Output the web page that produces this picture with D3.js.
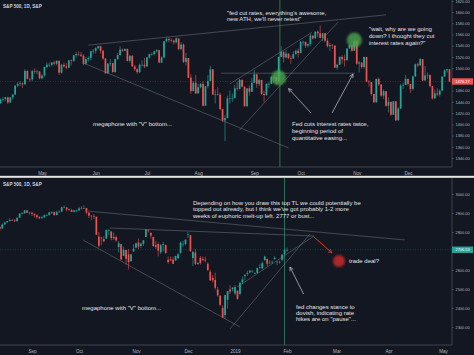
<!DOCTYPE html>
<html><head><meta charset="utf-8">
<script src="https://cdn.jsdelivr.net/npm/d3@7"></script>
<style>html,body{margin:0;padding:0;background:#131722;overflow:hidden}</style>
</head><body><svg id="c" width="474" height="355"></svg>
<script>
// ---------- TOP PANEL DATA: S&P 500 daily, Apr 5 2007 .. Dec 27 2007 (index 0..184) ----------
const topOpen = [
 1438,1444,1445,1448,1439,1448,1453,1469,1472,1473,1471,1495,1481,1480,1495,1494,1494,
 1482,1487,1502,1506,1506,1510,1508,1513,1492,1506,1503,1501,1514,1513,1523,1525,1524,1522,1508,1516,1518,1530,
 1531,1536,1539,1531,1517,1491,1508,1509,1493,1516,1523,1533,1531,1534,1513,1522,1503,1498,1493,1506,1506,
 1503,1519,1525,1525,1530,1532,1510,1519,1548,1552,1550,1549,1546,1553,1534,1542,1511,1518,1483,1459,1474,
 1455,1466,1472,1433,1468,1477,1498,1453,1454,1453,1427,1407,1411,1446,1446,1447,1464,1463,1479,1467,1432,1464,1458,
 1474,1489,1472,1479,1454,1452,1472,1472,1484,1484,1477,1520,1529,1519,1526,1518,1517,1525,1531,
 1527,1547,1547,1540,1543,1558,1553,1565,1562,1554,1562,1549,1539,1541,1540,1501,1506,1520,1516,1514,1535,1541,1531,
 1549,1508,1510,1502,1520,1476,1475,1454,1439,1481,1471,1451,1459,1433,1440,1417,1441,1407,1428,1469,1470,
 1481,1472,1463,1485,1507,1505,1516,1478,1487,1488,1468,1446,1455,1453,1460,1485,1496,1498];
const topHigh = [
 1446,1449,1449,1449,1448,1453,1469,1475,1477,1475,1498,1496,1483,1497,1500,1497,1495,
 1489,1503,1510,1510,1511,1513,1514,1514,1507,1510,1509,1505,1515,1523,1529,1530,1529,1525,1520,1521,1531,1534,
 1537,1540,1540,1532,1518,1509,1516,1510,1517,1527,1539,1535,1536,1535,1523,1523,1506,1500,1508,1514,1518,
 1520,1526,1528,1531,1534,1532,1521,1548,1556,1555,1553,1551,1555,1553,1546,1544,1527,1518,1489,1477,1488,
 1472,1474,1477,1468,1488,1504,1498,1462,1466,1456,1428,1416,1451,1460,1455,1470,1476,1481,1480,1467,1464,1469,1482,
 1497,1489,1481,1479,1460,1473,1476,1486,1486,1485,1521,1539,1530,1532,1526,1523,1530,1533,1535,
 1548,1549,1547,1544,1561,1558,1565,1567,1576,1563,1563,1553,1545,1543,1541,1508,1521,1523,1524,1535,1543,1541,1552,
 1549,1513,1511,1520,1520,1479,1475,1454,1481,1483,1471,1462,1459,1448,1440,1441,1441,1431,1472,1474,1488,
 1481,1472,1487,1508,1510,1518,1516,1504,1492,1488,1468,1462,1464,1462,1485,1498,1499,1498];
const topLow = [
 1436,1440,1441,1436,1438,1444,1453,1466,1468,1465,1471,1480,1476,1477,1490,1489,1480,
 1480,1485,1500,1502,1503,1505,1505,1488,1490,1501,1498,1500,1505,1511,1519,1522,1520,1505,1506,1512,1514,1526,
 1526,1533,1526,1515,1490,1490,1504,1492,1492,1515,1523,1529,1530,1512,1510,1503,1495,1490,1491,1503,1500,
 1503,1517,1522,1523,1528,1509,1509,1517,1546,1546,1546,1542,1544,1532,1532,1509,1505,1482,1454,1460,1454,
 1455,1464,1432,1434,1464,1477,1453,1437,1451,1425,1404,1370,1411,1437,1440,1446,1460,1462,1466,1432,1432,1451,1458,
 1474,1465,1468,1452,1439,1451,1465,1472,1474,1471,1477,1520,1510,1517,1516,1508,1517,1524,1519,
 1526,1540,1536,1537,1540,1551,1553,1555,1553,1548,1546,1537,1531,1534,1500,1497,1506,1508,1503,1514,1535,1529,1531,
 1506,1492,1499,1499,1475,1467,1451,1439,1439,1468,1449,1445,1431,1421,1415,1417,1406,1407,1428,1463,1470,
 1469,1456,1460,1485,1502,1504,1477,1478,1481,1466,1444,1446,1450,1449,1460,1485,1492,1475];
const topClose = [
 1444,1445,1448,1439,1448,1453,1469,1472,1473,1471,1495,1481,1480,1495,1494,1494,1482,
 1487,1502,1506,1506,1510,1508,1513,1492,1506,1503,1501,1514,1513,1523,1525,1524,1522,1508,1516,1518,1530,1531,
 1536,1539,1531,1517,1491,1508,1509,1493,1516,1523,1533,1531,1534,1513,1522,1503,1498,1493,1506,1506,1503,
 1519,1525,1525,1530,1532,1510,1519,1548,1552,1550,1549,1546,1553,1534,1542,1511,1518,1483,1459,1474,1455,
 1466,1472,1433,1468,1477,1498,1453,1454,1453,1427,1407,1411,1446,1446,1447,1464,1463,1479,1467,1432,1464,1458,1474,
 1489,1472,1479,1454,1452,1472,1472,1484,1484,1477,1520,1529,1519,1526,1518,1517,1525,1531,1527,
 1547,1547,1540,1543,1558,1553,1565,1562,1554,1562,1549,1539,1541,1540,1501,1506,1520,1516,1514,1535,1541,1531,1549,
 1508,1510,1502,1520,1476,1475,1454,1439,1481,1471,1451,1459,1433,1440,1417,1441,1407,1428,1469,1470,1481,
 1472,1463,1485,1507,1505,1516,1478,1487,1488,1468,1446,1455,1453,1460,1485,1496,1498,1476.27];
const topTickLabels = ["May","Jun","Jul","Aug","Sep","Oct","Nov","Dec"];
const topTickIdx = [17,39,60,81,104,123,146,167];
const topPriceTicks = [1340,1360,1380,1400,1420,1440,1460,1480,1500,1520,1540,1560,1580,1600,1620];

// ---------- BOTTOM PANEL DATA: S&P 500 daily, Aug 15 2018 .. Feb 1 2019 (index 0..116) ----------
const botOpen = [
 2827,2818,2840,2850,2857,2863,2861,2856,2875,2897,2898,2914,2901,
 2902,2896,2888,2878,2872,2877,2888,2888,2904,2905,2889,2904,2907,2930,2930,2919,2916,2906,2914,
 2914,2924,2923,2926,2902,2886,2884,2881,2776,2770,2763,2765,2809,2802,2774,2773,2721,2737,2674,2705,2683,2646,2698,
 2717,2745,2726,2738,2774,2807,2795,2773,2731,2737,2693,2731,2731,2654,2657,2654,2650,2663,2691,2737,2737,
 2790,2783,2663,2692,2630,2664,2658,2654,2633,2591,2559,2548,2497,2465,2401,2363,2443,2498,2499,
 2477,2491,2474,2535,2568,2580,2588,2595,2580,2585,2614,2609,2651,2658,2638,2642,2657,2644,2643,2654,2685,
 2703];
const botHigh = [
 2828,2845,2855,2859,2873,2868,2868,2876,2898,2905,2916,2913,2906,
 2906,2897,2893,2884,2885,2893,2893,2906,2909,2907,2912,2914,2934,2940,2926,2924,2922,2916,2917,
 2933,2936,2940,2927,2903,2889,2894,2874,2800,2776,2778,2813,2817,2806,2797,2781,2753,2729,2723,2707,2710,2686,2736,
 2745,2766,2745,2756,2815,2815,2799,2776,2754,2746,2736,2747,2735,2671,2671,2670,2675,2690,2751,2754,2760,
 2800,2785,2697,2709,2641,2674,2671,2670,2640,2601,2573,2586,2510,2466,2415,2468,2489,2520,2510,
 2520,2493,2538,2566,2580,2596,2598,2597,2589,2613,2633,2645,2675,2659,2651,2650,2672,2645,2650,2683,2708,
 2718];
const botLow = [
 2803,2818,2838,2850,2856,2857,2854,2859,2883,2891,2898,2899,2892,
 2884,2876,2869,2868,2871,2874,2882,2890,2895,2886,2890,2902,2912,2928,2908,2911,2905,2903,2903,
 2911,2919,2922,2893,2874,2862,2869,2785,2718,2730,2747,2766,2783,2756,2757,2748,2692,2651,2677,2628,2603,2645,2695,
 2713,2710,2716,2727,2774,2796,2765,2722,2711,2672,2685,2698,2685,2633,2646,2631,2649,2656,2685,2722,2730,
 2768,2694,2621,2626,2631,2627,2648,2640,2594,2542,2534,2496,2460,2409,2346,2344,2397,2473,2487,
 2467,2444,2467,2525,2546,2569,2582,2586,2579,2582,2606,2603,2651,2618,2631,2633,2655,2625,2634,2646,2679,
 2696];
const botClose = [
 2818,2840,2850,2857,2863,2861,2856,2875,2897,2898,2914,2901,2902,
 2896,2888,2878,2872,2877,2888,2888,2904,2905,2889,2904,2907,2930,2930,2919,2916,2906,2914,2914,
 2924,2923,2926,2902,2886,2884,2881,2786,2728,2768,2751,2810,2809,2768,2767,2756,2741,2656,2706,2659,2641,2682,2712,
 2740,2723,2739,2756,2814,2806,2781,2726,2722,2702,2731,2736,2690,2641,2650,2633,2674,2682,2744,2738,2760,
 2790,2700,2696,2633,2637,2636,2651,2650,2600,2546,2546,2507,2467,2417,2351,2468,2489,2486,2507,
 2510,2448,2532,2550,2574,2585,2597,2596,2583,2610,2616,2636,2671,2633,2639,2643,2665,2644,2640,2681,2704,
 2706.53];
const botTickLabels = ["Sep","Oct","Nov","Dec","2019","Feb","Mar","Apr","May"];
const botTickIdx = [13,32,55,76,95,116,136,157,179];
const botPriceTicks = [2300,2400,2500,2600,2700,2800,2900,3000];

const title = "S&P 500, 1D, S&P";

// ---------- drawing ----------
const W = 474, H = 355, AXIS_X = 452;
const UP = "#26a69a", DOWN = "#ef5350";
const FONT = "'Liberation Sans', Arial, sans-serif";
const svg = d3.select("#c");
svg.append("rect").attr("width", W).attr("height", H).attr("fill", "#131722");
const defs = svg.append("defs");
defs.append("filter").attr("id","soft").append("feGaussianBlur").attr("stdDeviation",0.9);
function marker(id, color){
  defs.append("marker").attr("id", id).attr("viewBox","0 0 8 8").attr("refX",7).attr("refY",4)
    .attr("markerWidth",5).attr("markerHeight",5).attr("markerUnits","userSpaceOnUse")
    .attr("orient","auto").append("path").attr("d","M1,1 L7,4 L1,7").attr("fill","none")
    .attr("stroke",color).attr("stroke-width",1);
}
marker("arW","#c8cbd2"); marker("arR","#e53935");

function panel(p){
  const g = svg.append("g");
  const x = d3.scaleLinear().domain(p.xDom).range(p.xRng);
  const y = d3.scaleLinear().domain(p.yDom).range(p.yRng);
  const cid = "clip" + p.id;
  defs.append("clipPath").attr("id", cid).append("rect")
    .attr("x", 0).attr("y", p.top).attr("width", AXIS_X).attr("height", p.bottom - p.top);
  const plot = g.append("g").attr("clip-path", `url(#${cid})`);

  const last = p.c.length - 1;
  const lastUp = p.c[last] >= p.o[last];
  const ly = y(p.c[last]);
  plot.append("line").attr("x1",0).attr("x2",AXIS_X).attr("y1",ly).attr("y2",ly)
    .attr("stroke", lastUp ? UP : DOWN).attr("stroke-opacity",0.45).attr("stroke-width",0.6)
    .attr("stroke-dasharray","1,1.5");

  plot.append("line").attr("x1",x(p.vIdx)).attr("x2",x(p.vIdx)).attr("y1",p.top).attr("y2",p.bottom)
    .attr("stroke", p.vColor).attr("stroke-width",1).attr("stroke-opacity",0.75);

  p.trend.forEach(t => plot.append("line")
    .attr("x1",x(t[0])).attr("y1",y(t[1])).attr("x2",x(t[2])).attr("y2",y(t[3]))
    .attr("stroke","#9598a1").attr("stroke-opacity",0.55).attr("stroke-width",0.7));

  const idx = d3.range(p.c.length);
  const bw = 1.7;
  plot.selectAll(".wick"+p.id).data(idx).join("line")
    .attr("x1", i => x(i)).attr("x2", i => x(i))
    .attr("y1", i => y(p.h[i])).attr("y2", i => y(p.l[i]))
    .attr("stroke", i => p.c[i] >= p.o[i] ? UP : DOWN).attr("stroke-width",0.6);
  plot.selectAll(".body"+p.id).data(idx).join("rect")
    .attr("x", i => x(i) - bw/2).attr("width", bw)
    .attr("y", i => y(Math.max(p.o[i], p.c[i])))
    .attr("height", i => Math.max(0.6, Math.abs(y(p.o[i]) - y(p.c[i]))))
    .attr("fill", i => p.c[i] >= p.o[i] ? UP : DOWN);

  p.circles.forEach(cc => plot.append("circle").attr("cx",x(cc[0])).attr("cy",y(cc[1])).attr("r",cc[2])
    .attr("fill",cc[3]).attr("fill-opacity",cc[4]).attr("filter","url(#soft)"));

  p.arrows.forEach(a => plot.append("line").attr("x1",a[0]).attr("y1",a[1]).attr("x2",a[2]).attr("y2",a[3])
    .attr("stroke",a[4]).attr("stroke-width",a[5]).attr("marker-end",`url(#${a[6]})`));

  p.notes.forEach(n => {
    const t = g.append("text").attr("x", n.x).attr("y", n.y).attr("fill","#e1e3ea")
      .attr("font-family", FONT).attr("font-size", 6);
    n.lines.forEach((s, k) => t.append("tspan").attr("x", n.x).attr("y", n.y + k*n.dy).text(s));
  });

  g.append("line").attr("x1",0).attr("x2",AXIS_X).attr("y1",p.bottom).attr("y2",p.bottom)
    .attr("stroke","#4a4e59").attr("stroke-width",0.8);
  g.append("line").attr("x1",AXIS_X).attr("x2",AXIS_X).attr("y1",p.top).attr("y2",p.bottom)
    .attr("stroke","#4a4e59").attr("stroke-width",0.8);

  const xa = g.append("g").attr("transform",`translate(0,${p.bottom})`)
    .call(d3.axisBottom(x).tickValues(p.tickIdx).tickFormat((d,i) => p.tickLabels[i]).tickSize(0).tickPadding(5));
  xa.select(".domain").remove();
  xa.selectAll("text").attr("fill","#b2b5be").attr("font-family",FONT).attr("font-size",4.6);

  // price ticks hidden by the last-price label are not drawn (as in TradingView)
  const shown = p.priceTicks.filter(v => Math.abs(y(v) - ly) > 6);
  const ya = g.append("g").attr("transform",`translate(${AXIS_X},0)`)
    .call(d3.axisRight(y).tickValues(shown).tickFormat(d3.format(".2f")).tickSize(1.5).tickPadding(2));
  ya.select(".domain").remove();
  ya.selectAll("line").attr("stroke","#4a4e59");
  ya.selectAll("text").attr("fill","#b2b5be").attr("font-family",FONT).attr("font-size",3.9);

  g.append("rect").attr("x",AXIS_X).attr("y",ly-3.2).attr("width",21).attr("height",6.4)
    .attr("fill", lastUp ? UP : DOWN);
  g.append("text").attr("x",AXIS_X+3.5).attr("y",ly+1.4).attr("fill","#ffffff")
    .attr("font-family",FONT).attr("font-size",3.9).text(d3.format(".2f")(p.c[last]));

  g.append("text").attr("x",3).attr("y",p.top+7.5).attr("fill","#d1d4dc").attr("font-family",FONT)
    .attr("font-size",4.6).attr("font-weight","bold").text(title);
}

panel({
  id:"T", top:0, bottom:167,
  xDom:[17,167], xRng:[42,408], yDom:[1340,1600], yRng:[158,12],
  o:topOpen, h:topHigh, l:topLow, c:topClose,
  tickIdx:topTickIdx, tickLabels:topTickLabels, priceTicks:topPriceTicks,
  vIdx:114.5, vColor:"#3d8f4f",
  trend:[[36,1541,158,1595],[34,1509,118,1358],[98,1390,138.3,1582],[94,1472,127.7,1564],[90.4,1491,145.3,1491]],
  circles:[[114,1483,7.5,"#4caf50",0.75],[145,1550,7.5,"#4caf50",0.75]],
  arrows:[[311,113,288.5,88.5,"#c8cbd2",0.7,"arW"],[332,113,353,74,"#c8cbd2",0.7,"arW"]],
  notes:[
    {x:227, y:14.8, dy:6.6, lines:["\"fed cut rates, everything's awesome,","new ATH, we'll never retest\""]},
    {x:369, y:31.4, dy:6.7, lines:["\"wait, why are we going","down? I thought they cut","interest rates again?\""]},
    {x:292, y:126.2, dy:6.8, lines:["Fed cuts interest rates twice,","beginning period of","quantitative easing..."]},
    {x:93, y:126.2, dy:6.6, lines:["megaphone with \"V\" bottom..."]}
  ]
});

svg.append("rect").attr("x",0).attr("y",175.8).attr("width",W).attr("height",2).attr("fill","#e6e6e6");

panel({
  id:"B", top:178, bottom:345,
  xDom:[13,116], xRng:[32,287], yDom:[2300,3000], yRng:[327,194],
  o:botOpen, h:botHigh, l:botLow, c:botClose,
  tickIdx:botTickIdx, tickLabels:botTickLabels, priceTicks:botPriceTicks,
  vIdx:115, vColor:"#2f8f6a",
  trend:[[35.6,2910,163.6,2758],[44.5,2821,126.9,2779],[95.8,2510,126.9,2779],[33.6,2758,97,2300],[93,2290,125.3,2790]],
  circles:[[137,2647,6,"#c62828",0.85]],
  arrows:[[303.5,294,290,267,"#c8cbd2",0.7,"arW"],[314,237,332,253,"#e53935",1,"arR"]],
  notes:[
    {x:193, y:205, dy:6.3, lines:["Depending on how you draw this top TL we could potentially be","topped out already, but I think we've got probably 1-2 more","weeks of euphoric melt-up left. 2777 or bust..."]},
    {x:349, y:263, dy:6, lines:["trade deal?"]},
    {x:296, y:308.8, dy:6, lines:["fed changes stance to","dovish, indicating rate","hikes are on \"pause\"..."]},
    {x:82, y:310, dy:6, lines:["megaphone with \"V\" bottom..."]}
  ]
});
</script></body></html>
